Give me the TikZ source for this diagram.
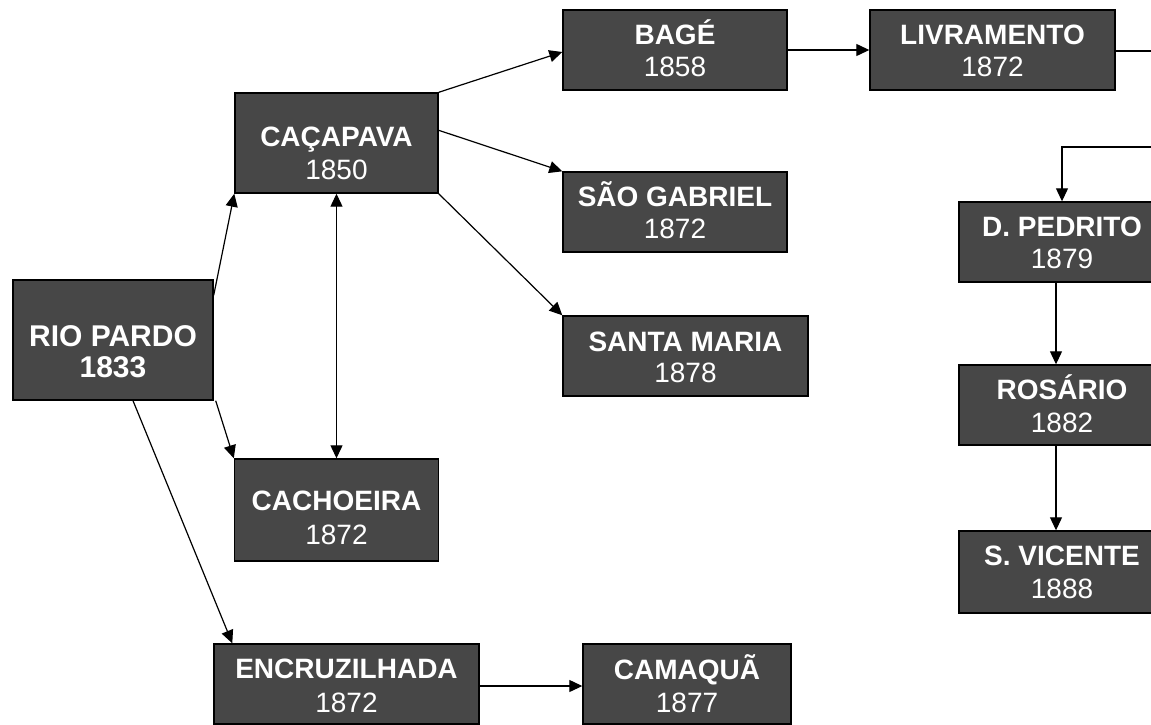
\documentclass[tikz,border=0pt]{standalone}
\usepackage{fontspec}
\setmainfont{Liberation Sans}
\usetikzlibrary{arrows.meta}
\definecolor{boxgray}{HTML}{474747}
\tikzset{
  box/.style={draw=black, line width=1.4pt, fill=boxgray, inner sep=0pt},
  nm/.style={anchor=base, text=white, inner sep=0pt, font=\fontsize{28}{28}\selectfont\bfseries},
  bignm/.style={anchor=base, text=white, inner sep=0pt, font=\fontsize{30}{30}\selectfont\bfseries},
  yr/.style={anchor=base, text=white, inner sep=0pt, font=\fontsize{28}{28}\selectfont},
  tip/.style={},
  arr/.style={draw=black, line width=1.2pt, -{Triangle[length=13pt,width=12pt]}},
  arrboth/.style={draw=black, line width=1.2pt, {Triangle[length=13pt,width=12pt]}-{Triangle[length=13pt,width=12pt]}},
}
\begin{document}
\begin{tikzpicture}[x=1pt,y=-1pt]
\useasboundingbox (0,0) rectangle (1151,725);
\clip (0,0) rectangle (1151,725);
\fill[white] (0,0) rectangle (1151,725);

% boxes
\node[box, minimum width=200pt, minimum height=120pt] (rio) at (113,340) {};
\node[box, minimum width=203pt, minimum height=100pt] (cacapava) at (336.5,143) {};
\node[box, minimum width=204pt, minimum height=102pt] (cachoeira) at (336.5,510) {};
\node[box, minimum width=265pt, minimum height=80pt] (encruz) at (346.5,684) {};
\node[box, minimum width=208pt, minimum height=80pt] (camaqua) at (687,684) {};
\node[box, minimum width=224pt, minimum height=80pt] (bage) at (675,50) {};
\node[box, minimum width=224pt, minimum height=80pt] (gabriel) at (675,212) {};
\node[box, minimum width=245pt, minimum height=80pt] (smaria) at (685.5,356) {};
\node[box, minimum width=245pt, minimum height=80pt] (livra) at (992.5,50) {};
\node[box, minimum width=206pt, minimum height=80pt] (pedrito) at (1062,242) {};
\node[box, minimum width=206pt, minimum height=80pt] (rosario) at (1062,405) {};
\node[box, minimum width=206pt, minimum height=82pt] (vicente) at (1062,572) {};

% labels
\node[bignm] (rioN) at ([yshift=-67pt]rio.north) {RIO PARDO};
\node[bignm] (rioY) at ([yshift=-98pt]rio.north) {1833};
\node[nm] (cacN) at ([yshift=-54pt]cacapava.north) {CAÇAPAVA};
\node[yr] (cacY) at ([yshift=-87pt]cacapava.north) {1850};
\node[nm] (choN) at ([yshift=-52pt]cachoeira.north) {CACHOEIRA};
\node[yr] (choY) at ([yshift=-86pt]cachoeira.north) {1872};
\node[nm] (encN) at ([yshift=-35pt]encruz.north) {ENCRUZILHADA};
\node[yr] (encY) at ([yshift=-69pt]encruz.north) {1872};
\node[nm] (camN) at ([yshift=-36pt]camaqua.north) {CAMAQUÃ};
\node[yr] (camY) at ([yshift=-69pt]camaqua.north) {1877};
\node[nm] (bagN) at ([yshift=-35pt]bage.north) {BAGÉ};
\node[yr] (bagY) at ([yshift=-67pt]bage.north) {1858};
\node[nm] (gabN) at ([yshift=-35pt]gabriel.north) {SÃO GABRIEL};
\node[yr] (gabY) at ([yshift=-67pt]gabriel.north) {1872};
\node[nm] (smaN) at ([yshift=-36pt]smaria.north) {SANTA MARIA};
\node[yr] (smaY) at ([yshift=-67pt]smaria.north) {1878};
\node[nm] (livN) at ([yshift=-35pt]livra.north) {LIVRAMENTO};
\node[yr] (livY) at ([yshift=-67pt]livra.north) {1872};
\node[nm] (pedN) at ([yshift=-35pt]pedrito.north) {D. PEDRITO};
\node[yr] (pedY) at ([yshift=-67pt]pedrito.north) {1879};
\node[nm] (rosN) at ([yshift=-35pt]rosario.north) {ROSÁRIO};
\node[yr] (rosY) at ([yshift=-68pt]rosario.north) {1882};
\node[nm] (vicN) at ([yshift=-35pt]vicente.north) {S. VICENTE};
\node[yr] (vicY) at ([yshift=-68pt]vicente.north) {1888};

% off-page turn points
\coordinate (offA) at (1220,51);
\coordinate (offB) at (1220,147);

% connectors
\draw[arr] ([yshift=-16pt]rio.north east) -- (cacapava.south west);
\draw[arr] ([xshift=2pt]rio.south east) -- (cachoeira.north west);
\draw[arr] ([xshift=20pt]rio.south) -- ([xshift=19pt]encruz.north west);
\draw[arrboth] (cacapava.south) -- (cachoeira.north);
\draw[arr] (cacapava.north east) -- ([yshift=-2pt]bage.west);
\draw[arr] ([yshift=-38pt]cacapava.north east) -- (gabriel.north west);
\draw[arr] (cacapava.south east) -- (smaria.north west);
\draw[arr] (bage.east) -- (livra.west);
\draw[arr] ([yshift=-1pt]livra.east) -- (offA) -- (offB) -| (pedrito.north);
\draw[arr] ([xshift=-6pt]pedrito.south) -- ([xshift=-6pt]rosario.north);
\draw[arr] ([xshift=-6pt]rosario.south) -- ([xshift=-6pt]vicente.north);
\draw[arr] ([yshift=-2pt]encruz.east) -- ([yshift=-2pt]camaqua.west);
\end{tikzpicture}
\end{document}
